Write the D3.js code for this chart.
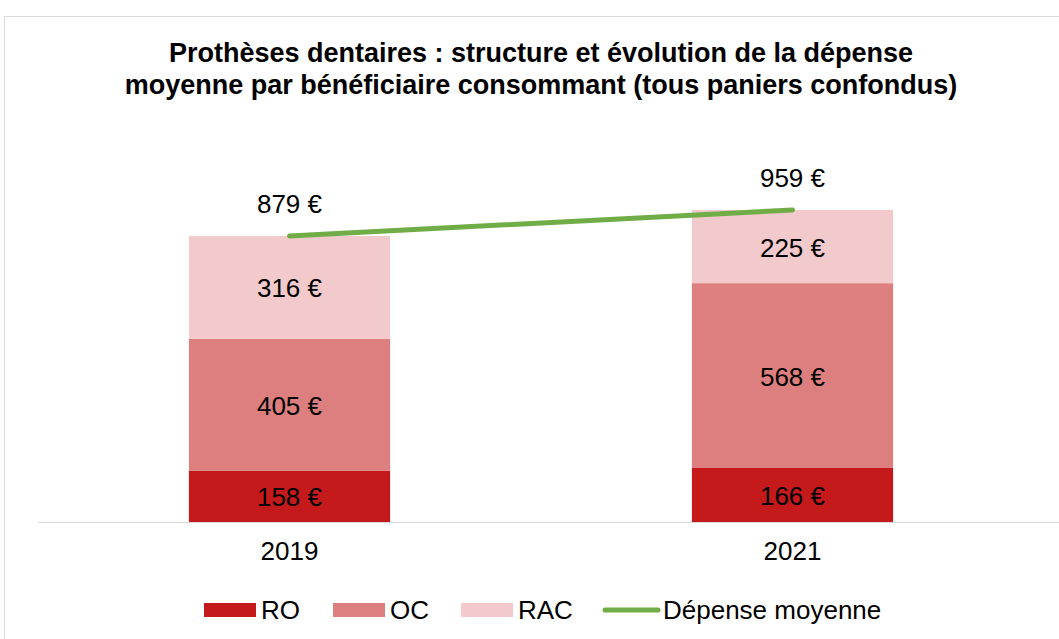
<!DOCTYPE html>
<html>
<head>
<meta charset="utf-8">
<script src="https://cdn.jsdelivr.net/npm/d3@7"></script>
<style>
  body { margin: 0; background: #fff; }
  svg { font-family: "Liberation Sans", Arial, sans-serif; }
</style>
</head>
<body>
<div id="chart"></div>
<script>
const years = ["2019", "2021"];
const ro = [158, 166];
const oc = [405, 568];
const rac = [316, 225];
const depense = [879, 959];
const titleLines = [
  "Prothèses dentaires : structure et évolution de la dépense",
  "moyenne par bénéficiaire consommant (tous paniers confondus)"
];

const width = 1059, height = 639;
const colors = { RO: "#c41a1b", OC: "#de7f7f", RAC: "#f2cacb", line: "#70ad47" };

const svg = d3.select("#chart").append("svg")
  .attr("width", width)
  .attr("height", height);

// outer frame
svg.append("rect")
  .attr("x", 4.5).attr("y", 16.5)
  .attr("width", 1070).attr("height", 640)
  .attr("fill", "none")
  .attr("stroke", "#d9d9d9");

svg.append("text")
  .attr("text-anchor", "middle")
  .attr("font-weight", "bold")
  .attr("font-size", 27)
  .selectAll("tspan")
  .data(titleLines)
  .join("tspan")
  .attr("x", 541)
  .attr("y", (d, i) => 61.5 + i * 32)
  .text(d => d);

const x = d3.scaleBand()
  .domain(years)
  .range([38, 1044])
  .paddingInner(0.6)
  .paddingOuter(0.3);

const y = d3.scaleLinear()
  .domain([0, 1000])
  .range([522, 196.6]);

const keys = ["RO", "OC", "RAC"];
const rows = years.map((yr, i) => ({ year: yr, RO: ro[i], OC: oc[i], RAC: rac[i] }));
const stacked = d3.stack().keys(keys)(rows);

const layers = svg.append("g").selectAll("g")
  .data(stacked)
  .join("g")
  .attr("fill", d => colors[d.key]);

layers.selectAll("rect")
  .data(d => d)
  .join("rect")
  .attr("x", d => x(d.data.year))
  .attr("y", d => y(d[1]))
  .attr("width", x.bandwidth())
  .attr("height", d => y(d[0]) - y(d[1]));

layers.selectAll("text")
  .data(d => d.map(v => ({ v, key: d.key })))
  .join("text")
  .attr("x", d => x(d.v.data.year) + x.bandwidth() / 2)
  .attr("y", d => (y(d.v[0]) + y(d.v[1])) / 2 + 1)
  .attr("dy", "0.35em")
  .attr("text-anchor", "middle")
  .attr("font-size", 26)
  .attr("fill", "#000")
  .text(d => `${d.v.data[d.key]} €`);

// x axis
const xAxis = svg.append("g")
  .attr("transform", "translate(0,522)")
  .call(d3.axisBottom(x).tickSize(0).tickPadding(20));
xAxis.select(".domain").attr("stroke", "#d9d9d9").attr("d", "M38,0.5H1059");
xAxis.selectAll("text")
  .attr("font-size", 26)
  .attr("font-family", "Liberation Sans, Arial, sans-serif")
  .attr("fill", "#000");

// average line
const line = d3.line()
  .x((d, i) => x(years[i]) + x.bandwidth() / 2)
  .y(d => y(d));

svg.append("path")
  .datum(depense)
  .attr("d", line)
  .attr("fill", "none")
  .attr("stroke", colors.line)
  .attr("stroke-width", 5)
  .attr("stroke-linecap", "round");

svg.append("g").selectAll("text")
  .data(depense)
  .join("text")
  .attr("x", (d, i) => x(years[i]) + x.bandwidth() / 2)
  .attr("y", d => y(d) - 32)
  .attr("dy", "0.35em")
  .attr("text-anchor", "middle")
  .attr("font-size", 26)
  .text(d => `${d} €`);

// legend
const legendItems = [
  { label: "RO", type: "rect", color: colors.RO, x: 204 },
  { label: "OC", type: "rect", color: colors.OC, x: 333 },
  { label: "RAC", type: "rect", color: colors.RAC, x: 461 },
  { label: "Dépense moyenne", type: "line", color: colors.line, x: 603 }
];
const lg = svg.append("g").selectAll("g")
  .data(legendItems)
  .join("g")
  .attr("transform", d => `translate(${d.x},610)`);

lg.filter(d => d.type === "rect").append("rect")
  .attr("x", 0).attr("y", -7)
  .attr("width", 52).attr("height", 14)
  .attr("fill", d => d.color);

lg.filter(d => d.type === "line").append("line")
  .attr("x1", 2).attr("x2", 55)
  .attr("stroke", d => d.color)
  .attr("stroke-width", 5)
  .attr("stroke-linecap", "round");

lg.append("text")
  .attr("x", d => d.type === "line" ? 60 : 57)
  .attr("y", 9)
  .attr("font-size", 26)
  .text(d => d.label);
</script>
</body>
</html>
